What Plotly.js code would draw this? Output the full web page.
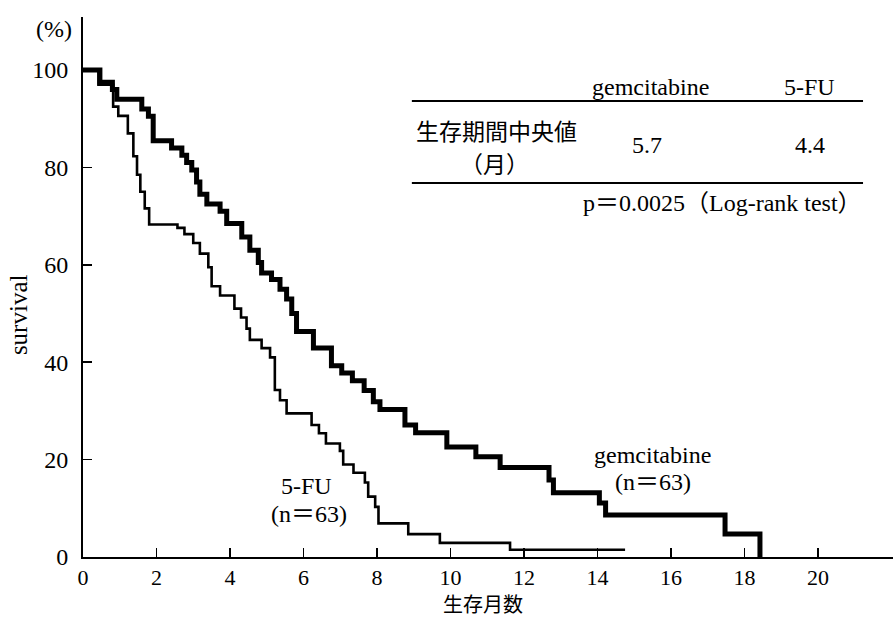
<!DOCTYPE html>
<html>
<head>
<meta charset="utf-8">
<script src="https://cdn.plot.ly/plotly-3.0.1.min.js"></script>
<style>html,body{margin:0;padding:0;background:#fff;}#chart{width:893px;height:619px;}</style>
</head>
<body>
<div id="chart"></div>
<script>
// Kaplan-Meier survival, gemcitabine (months, % surviving after each step)
const gemMonths = [0, 0.46, 0.80, 0.92, 1.60, 1.78, 1.91, 2.41, 2.69, 2.82, 2.96, 3.09, 3.18, 3.37, 3.73, 3.91, 4.32, 4.54, 4.77, 4.86, 5.13, 5.36, 5.54, 5.68, 5.81, 6.27, 6.76, 7.04, 7.33, 7.65, 7.90, 8.08, 8.76, 9.05, 9.90, 10.69, 11.35, 12.68, 12.80, 14.05, 14.22, 17.47, 18.42];
const gemSurv   = [100, 97.5, 96, 94, 92, 90.5, 85.5, 84, 82.5, 81, 79.5, 77, 74.5, 72.5, 71, 68.5, 65.7, 63, 60.5, 58.3, 57, 55, 53, 50, 46.3, 42.9, 39.3, 37.8, 36.2, 34.2, 31.9, 30.3, 27.1, 25.5, 22.6, 20.6, 18.4, 15.8, 13.2, 11.1, 8.6, 4.7, 0];
// 5-FU
const fuMonths = [0, 0.42, 0.82, 0.96, 1.22, 1.37, 1.47, 1.56, 1.68, 1.80, 2.57, 2.76, 3.00, 3.18, 3.41, 3.50, 3.73, 4.12, 4.30, 4.45, 4.54, 4.86, 5.09, 5.22, 5.36, 5.54, 6.22, 6.42, 6.61, 6.99, 7.08, 7.36, 7.67, 7.76, 7.95, 8.04, 8.85, 9.71, 11.62, 14.75];
const fuSurv   = [100, 97, 92.5, 90.6, 87, 82.3, 78.5, 75, 71.6, 68.3, 67.6, 66.3, 64.5, 62.3, 59.5, 55.6, 53.7, 51, 49.2, 46.9, 44.6, 42.9, 41, 34.3, 32.2, 29.5, 27.1, 25.4, 23.3, 21.8, 19, 17.3, 15.3, 12.4, 10.3, 6.9, 4.7, 2.9, 1.5, 1.5];

const xTicks = [0, 2, 4, 6, 8, 10, 12, 14, 16, 18, 20];
const yTicks = [0, 20, 40, 60, 80, 100];

const tableHeaders = ['gemcitabine', '5-FU'];
const medianLabel = '生存期間中央値';
const medianUnit = '（月）';
const medianValues = ['5.7', '4.4'];
const pText = 'p＝0.0025（Log-rank test）';
const groupNames = ['gemcitabine', '5-FU'];
const groupN = ['(n＝63)', '(n＝63)'];

const serif = "'Liberation Serif', 'Noto Sans CJK JP', serif";
const cjk = "'Noto Sans CJK JP', sans-serif";

const traces = [
  {x: gemMonths, y: gemSurv, mode: 'lines', line: {shape: 'hv', color: '#000', width: 5}, name: 'gemcitabine', hoverinfo: 'skip'},
  {x: fuMonths, y: fuSurv, mode: 'lines', line: {shape: 'hv', color: '#000', width: 2.6}, name: '5-FU', hoverinfo: 'skip'}
];

function ann(text, x, y, size, family) {
  return {text: text, x: x, y: y, xref: 'paper', yref: 'paper', xanchor: 'center', yanchor: 'middle',
          showarrow: false, font: {family: family || serif, size: size || 24, color: '#000'}};
}

const layout = {
  width: 893, height: 619,
  margin: {l: 83, r: 0, t: 17, b: 62, pad: 0},
  paper_bgcolor: '#fff', plot_bgcolor: '#fff',
  showlegend: false,
  xaxis: {
    range: [0, 22.04], tickvals: xTicks, ticktext: xTicks.map(String),
    ticks: 'inside', ticklen: 9, tickwidth: 1.5, tickcolor: '#000',
    showline: true, linecolor: '#000', linewidth: 2, showgrid: false, zeroline: false,
    tickfont: {family: serif, size: 22, color: '#000'}, ticklabelstandoff: 0
  },
  yaxis: {
    range: [0, 110.9], tickvals: yTicks, ticktext: yTicks.map(String),
    ticks: 'inside', ticklen: 9, tickwidth: 1.5, tickcolor: '#000',
    showline: true, linecolor: '#000', linewidth: 2, showgrid: false, zeroline: false,
    tickfont: {family: serif, size: 24, color: '#000'}, ticklabelstandoff: 8
  },
  shapes: [
    {type: 'line', xref: 'paper', yref: 'paper', x0: 0.406, x1: 0.963, y0: 0.8444, y1: 0.8444, line: {color: '#000', width: 2}},
    {type: 'line', xref: 'paper', yref: 'paper', x0: 0.406, x1: 0.963, y0: 0.6926, y1: 0.6926, line: {color: '#000', width: 2}}
  ],
  annotations: [
    ann('(%)', -0.0358, 0.978, 24),
    {text: 'survival', x: -0.0802, y: 0.448, xref: 'paper', yref: 'paper', xanchor: 'center', yanchor: 'middle',
     showarrow: false, textangle: -90, font: {family: serif, size: 25, color: '#000'}},
    ann('生存月数', 0.4938, -0.087, 20, cjk),
    ann(tableHeaders[0], 0.70, 0.870, 24),
    ann(tableHeaders[1], 0.8975, 0.870, 24),
    ann(medianLabel, 0.511, 0.7907, 23, cjk),
    ann(medianUnit, 0.5086, 0.7296, 23, cjk),
    ann(medianValues[0], 0.6963, 0.763, 24),
    ann(medianValues[1], 0.8975, 0.763, 24),
    ann(pText, 0.789, 0.6556, 24),
    ann(groupNames[1], 0.2765, 0.1315, 24),
    ann(groupN[1], 0.279, 0.0796, 24),
    ann(groupNames[0], 0.7037, 0.189, 24),
    ann(groupN[0], 0.7037, 0.139, 24)
  ]
};

Plotly.newPlot('chart', traces, layout, {staticPlot: true, displayModeBar: false});
</script>
</body>
</html>
